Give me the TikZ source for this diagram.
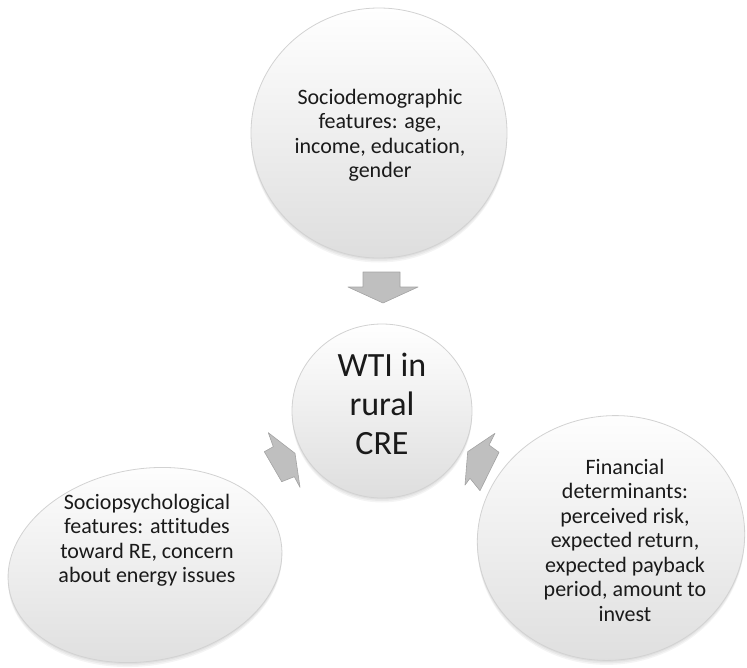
\documentclass[tikz,border=0pt]{standalone}
\usepackage{fontspec}
\setmainfont{Carlito}[Ligatures=NoCommon]
\usetikzlibrary{shapes.geometric,shadows}

\definecolor{inktext}{HTML}{1A1A1A}
\definecolor{rim}{HTML}{D2D2D2}
\definecolor{arrowfill}{HTML}{BFBFBF}
\definecolor{arrowrim}{HTML}{A3A3A3}

\begin{document}
\begin{tikzpicture}[x=1pt,y=-1pt,
  softshadow/.style={
    general shadow={fill=black,opacity=0.045,shadow yshift=-1.5pt},
    general shadow={fill=black,opacity=0.045,shadow yshift=-3pt},
    general shadow={fill=black,opacity=0.045,shadow yshift=-4.5pt}},
  bubble/.style={ellipse, draw=rim, line width=0.8pt, inner sep=0pt,
    top color=white, bottom color=black!13, softshadow},
  bubbletext/.style={align=center, text=inktext,
    font=\fontsize{22}{24.5}\selectfont},
  coretext/.style={align=center, text=inktext,
    font=\fontsize{34}{39}\selectfont},
  blockarrow/.style={fill=arrowfill, draw=arrowrim, line width=0.6pt,
    line join=round}]

\useasboundingbox (0,0) rectangle (747,667);

% outer factors and the central intention
\node[bubble, minimum width=256pt, minimum height=250pt] (socdem) at (379,133) {};
\node[bubble, minimum width=276pt, minimum height=192pt, rotate=10] (socpsy) at (145,565) {};
\node[bubble, minimum width=268pt, minimum height=244pt, rotate=10] (finance) at (611,538) {};
\node[bubble, minimum width=180pt, minimum height=174pt] (core) at (382,411) {};

\node[bubbletext] (socdem-text) at (380,135)
  {Sociodemographic\\features: age,\\income, education,\\gender};
\node[bubbletext] (socpsy-text) at (147,540)
  {Sociopsychological\\features: attitudes\\toward RE, concern\\about energy issues};
\node[bubbletext] (finance-text) at (625,540)
  {Financial\\determinants:\\perceived risk,\\expected return,\\expected payback\\period, amount to\\invest};
\node[coretext] (core-text) at (382,404) {WTI in\\rural\\CRE};

% block arrows pointing into the centre
\draw[blockarrow] (363,272) -- (400,272) -- (400,287) -- (418,287)
  -- (383,303) -- (348,287) -- (363,287) -- cycle;
\draw[blockarrow] (268.3,432.7) -- (295,453.3) -- (300,487.3) -- (294.3,476.7)
  -- (281.7,481.7) -- (264.3,451.7) -- (273.3,446.7) -- cycle;
\draw[blockarrow] (495,433.3) -- (467.7,451.7) -- (465,485) -- (470,478.3)
  -- (480,490.7) -- (499,452.3) -- (489,445) -- cycle;
\end{tikzpicture}
\end{document}
